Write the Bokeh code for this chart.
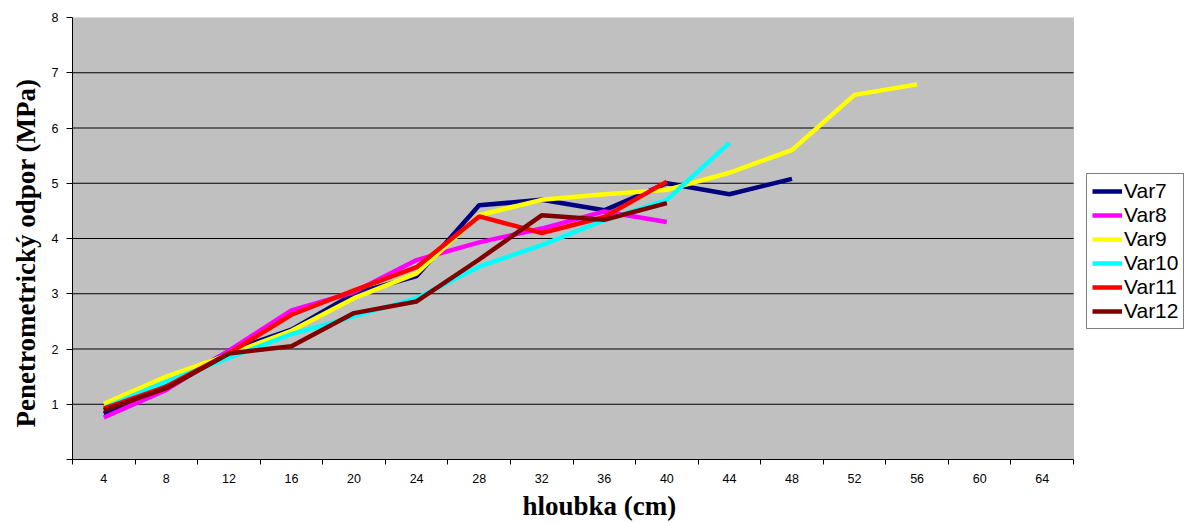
from bokeh.plotting import figure
from bokeh.models import FixedTicker, Legend, LegendItem, Range1d, Title, BoxAnnotation
from bokeh.embed import file_html
from bokeh.resources import INLINE

depths = ["4", "8", "12", "16", "20", "24", "28", "32", "36", "40",
          "44", "48", "52", "56", "60", "64"]
y_ticks = [0, 1, 2, 3, 4, 5, 6, 7, 8]

var7 = [0.83, 1.33, 1.96, 2.35, 3.00, 3.32, 4.60, 4.70, 4.51, 5.00, 4.80, 5.08]
var8 = [0.76, 1.26, 1.97, 2.70, 3.03, 3.61, 3.93, 4.18, 4.49, 4.30]
var9 = [1.01, 1.50, 1.90, 2.33, 2.92, 3.37, 4.42, 4.70, 4.80, 4.88, 5.19, 5.60, 6.60, 6.79]
var10 = [0.93, 1.41, 1.84, 2.27, 2.59, 2.92, 3.49, 3.88, 4.33, 4.70, 5.73]
var11 = [0.92, 1.32, 1.92, 2.62, 3.06, 3.48, 4.40, 4.10, 4.39, 5.03]
var12 = [0.89, 1.29, 1.92, 2.05, 2.65, 2.86, 3.62, 4.42, 4.34, 4.64]

series = [("Var7", var7, "#000080"), ("Var8", var8, "#FF00FF"),
          ("Var9", var9, "#FFFF00"), ("Var10", var10, "#00FFFF"),
          ("Var11", var11, "#FF0000"), ("Var12", var12, "#800000")]

n = len(depths)
x_lo, x_hi = -0.5, n - 0.5
# frame spans the full width to the right; the grey plot area covers only the categories
x_end = x_lo + n * (1188 - 72) / (1073 - 72)

p = figure(width=1188, height=523, output_backend="svg", toolbar_location=None,
           x_range=Range1d(x_lo, x_end), y_range=Range1d(y_ticks[0], y_ticks[-1]),
           min_border_left=72, min_border_right=0, min_border_top=17,
           min_border_bottom=63)
p.background_fill_color = "white"
p.border_fill_color = "white"
p.outline_line_color = None

area = BoxAnnotation(left=x_lo, right=x_hi, bottom=y_ticks[0], top=y_ticks[-1],
                     fill_color="#C0C0C0", fill_alpha=1,
                     line_color="#808080", line_width=1, level="underlay")
p.add_layout(area)

xa = p.xaxis[0]
xa.bounds = (x_lo, x_hi)
xa.ticker = FixedTicker(ticks=list(range(n)),
                        minor_ticks=[i - 0.5 for i in range(n + 1)])
xa.major_label_overrides = {i: d for i, d in enumerate(depths)}
xa.major_tick_line_color = None
xa.minor_tick_line_color = "black"
xa.minor_tick_out = 5
xa.minor_tick_in = 0
xa.axis_line_color = "black"
xa.major_label_text_font = "Liberation Sans"
xa.major_label_text_font_size = "12.5px"
xa.major_label_text_color = "black"
xa.major_label_standoff = 8

ya = p.yaxis[0]
ya.ticker = FixedTicker(ticks=y_ticks)
ya.major_label_overrides = {0: ""}
ya.major_tick_out = 6
ya.major_tick_in = 0
ya.major_tick_line_color = "black"
ya.minor_tick_line_color = None
ya.axis_line_color = "black"
ya.major_label_text_font = "Liberation Sans"
ya.major_label_text_font_size = "12.5px"
ya.major_label_text_color = "black"
ya.major_label_standoff = 8

xt = Title(text="hloubka (cm)", align="left", offset=450,
           text_font="Liberation Serif", text_font_style="bold",
           text_font_size="27px", text_color="black", standoff=6)
p.add_layout(xt, "below")
yt = Title(text="Penetrometrický odpor (MPa)", align="left", offset=32,
           text_font="Liberation Serif", text_font_style="bold",
           text_font_size="27px", text_color="black", standoff=16)
p.add_layout(yt, "left")

p.xgrid.grid_line_color = None
p.ygrid.grid_line_color = None
grid_y = y_ticks[1:-1]
p.segment(x0=[x_lo] * len(grid_y), x1=[x_hi] * len(grid_y), y0=grid_y, y1=grid_y,
          line_color="black", line_width=1)

items = []
for name, vals, col in series:
    xs = list(range(len(vals)))
    r = p.line(xs, vals, line_color=col, line_width=4.5)
    items.append(LegendItem(label=name, renderers=[r]))

legend = Legend(items=items, location=(1014, 130),
                label_text_font="Liberation Sans", label_text_font_size="21px",
                label_text_color="black",
                glyph_width=30, glyph_height=18, label_height=18,
                label_standoff=2, spacing=0, padding=5, margin=0,
                border_line_color="black", border_line_width=1,
                background_fill_color="white", background_fill_alpha=1)
p.add_layout(legend)

open("out.html", "w").write(file_html(p, INLINE))
